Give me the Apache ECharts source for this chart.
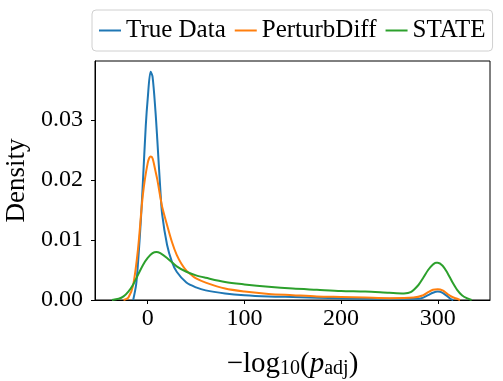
<!DOCTYPE html>
<html>
<head>
<meta charset="utf-8">
<script src="https://cdn.jsdelivr.net/npm/echarts@6/dist/echarts.min.js"></script>
<style>
  html, body { margin: 0; padding: 0; background: #fff; }
  #chart { width: 503px; height: 381px; }
</style>
</head>
<body>
<div id="chart"></div>
<script>
// density curves, as [x, density] pairs
const trueData = [
  [-15, 0], [-12, 0.0025], [-10, 0.0062], [-7, 0.0135], [-5, 0.0195], [-2, 0.0290], [0, 0.0335],
  [3, 0.0380], [5, 0.0372], [8, 0.0315], [10, 0.0265], [13, 0.0185], [15, 0.0142],
  [20, 0.0092], [25, 0.0064], [30, 0.0047], [40, 0.0029], [50, 0.0021], [60, 0.0016],
  [80, 0.0011], [100, 0.0008], [125, 0.0006], [150, 0.0005], [200, 0.0003], [250, 0.0002],
  [280, 0.0002], [285, 0.0004], [290, 0.0008], [295, 0.0012], [300, 0.0014], [305, 0.0012],
  [310, 0.0006], [313, 0.0002], [316, 0]
];
const perturbDiff = [
  [-25, 0], [-20, 0.0004], [-15, 0.0025], [-10, 0.0085], [-5, 0.0175], [0, 0.0228],
  [3, 0.0239], [5, 0.0236], [8, 0.0215], [10, 0.0200], [13, 0.0172], [15, 0.0155],
  [20, 0.0125], [25, 0.0097], [30, 0.0075], [35, 0.0060], [40, 0.0049], [45, 0.0042],
  [50, 0.0036], [60, 0.0029], [80, 0.0019], [100, 0.0014], [125, 0.0010], [150, 0.0008],
  [175, 0.0006], [200, 0.0005], [225, 0.0004], [250, 0.0003], [275, 0.0004], [285, 0.0008],
  [290, 0.0013], [295, 0.0017], [300, 0.0018], [305, 0.0016], [310, 0.0010], [315, 0.0005],
  [320, 0.0002], [323, 0]
];
const stateData = [
  [-37, 0], [-30, 0.0002], [-25, 0.0006], [-20, 0.0014], [-15, 0.0026], [-10, 0.0042],
  [-5, 0.0058], [0, 0.0070], [5, 0.0078], [9, 0.0080], [13, 0.0078], [20, 0.0070],
  [30, 0.0056], [40, 0.0047], [50, 0.0041], [60, 0.0037], [80, 0.0030], [100, 0.0026],
  [125, 0.0022], [150, 0.0019], [175, 0.0017], [200, 0.0015], [225, 0.0014], [250, 0.0012],
  [265, 0.0011], [272, 0.0013], [280, 0.0025], [285, 0.0037], [290, 0.0050], [295, 0.0059],
  [298, 0.0062], [300, 0.0062], [305, 0.0057], [310, 0.0045], [315, 0.0030], [320, 0.0017],
  [325, 0.0008], [330, 0.0003], [335, 0]
];
const xTicks = [0, 100, 200, 300];
const yTicks = [0, 0.01, 0.02, 0.03];
const seriesNames = ['True Data', 'PerturbDiff', 'STATE'];

const font = 'Liberation Serif';
const myChart = echarts.init(document.getElementById('chart'));

function lineSeries(name, data, color) {
  return {
    name: name,
    type: 'line',
    data: data,
    smooth: 0.3,
    symbol: 'none',
    lineStyle: { color: color, width: 2 },
    itemStyle: { color: color },
  };
}

const option = {
  animation: false,
  backgroundColor: '#fff',
  textStyle: { fontFamily: font },
  legend: {
    data: seriesNames,
    left: 92,
    top: 10,
    padding: [8, 7],
    icon: 'rect',
    itemWidth: 22,
    itemHeight: 2,
    itemGap: 9,
    borderColor: '#d0d0d0',
    borderWidth: 1,
    borderRadius: 4,
    textStyle: { fontFamily: font, fontSize: 25, color: '#000' },
  },
  grid: {
    left: 95,
    right: 13,
    top: 61,
    bottom: 81,
    show: true,
    borderColor: '#000',
    borderWidth: 1,
    containLabel: false,
    outerBoundsMode: 'none',
  },
  xAxis: {
    type: 'value',
    min: -54.5,
    max: 354,
    axisLine: { show: true, onZero: false, lineStyle: { color: '#000', width: 1 } },
    axisTick: { show: true, length: 4, lineStyle: { color: '#000' }, customValues: xTicks },
    axisLabel: { customValues: xTicks, fontFamily: font, fontSize: 24, color: '#000', margin: 7 },
    splitLine: { show: false },
    name: '{a|−log}{s|10}{a|(}{i|p}{s|adj}{a|)}',
    nameLocation: 'middle',
    nameGap: 50,
    nameTextStyle: {
      rich: {
        a: { fontFamily: font, fontSize: 29, color: '#000' },
        i: { fontFamily: font, fontSize: 29, fontStyle: 'italic', color: '#000' },
        s: { fontFamily: font, fontSize: 20, color: '#000', padding: [8, 0, 0, 0] },
      },
    },
  },
  yAxis: {
    type: 'value',
    min: 0,
    max: 0.0398,
    axisLine: { show: true, onZero: false, lineStyle: { color: '#000', width: 1 } },
    axisTick: { show: true, length: 4, lineStyle: { color: '#000' }, customValues: yTicks },
    axisLabel: {
      customValues: yTicks,
      fontFamily: font,
      fontSize: 24,
      color: '#000',
      margin: 12,
      formatter: v => v.toFixed(2),
    },
    splitLine: { show: false },
    name: 'Density',
    nameLocation: 'middle',
    nameRotate: 90,
    nameGap: 65,
    nameTextStyle: { fontFamily: font, fontSize: 27, color: '#000' },
  },
  series: [
    lineSeries(seriesNames[0], trueData, '#1f77b4'),
    lineSeries(seriesNames[1], perturbDiff, '#ff7f0e'),
    lineSeries(seriesNames[2], stateData, '#2ca02c'),
  ],
};
myChart.setOption(option);
</script>
</body>
</html>
